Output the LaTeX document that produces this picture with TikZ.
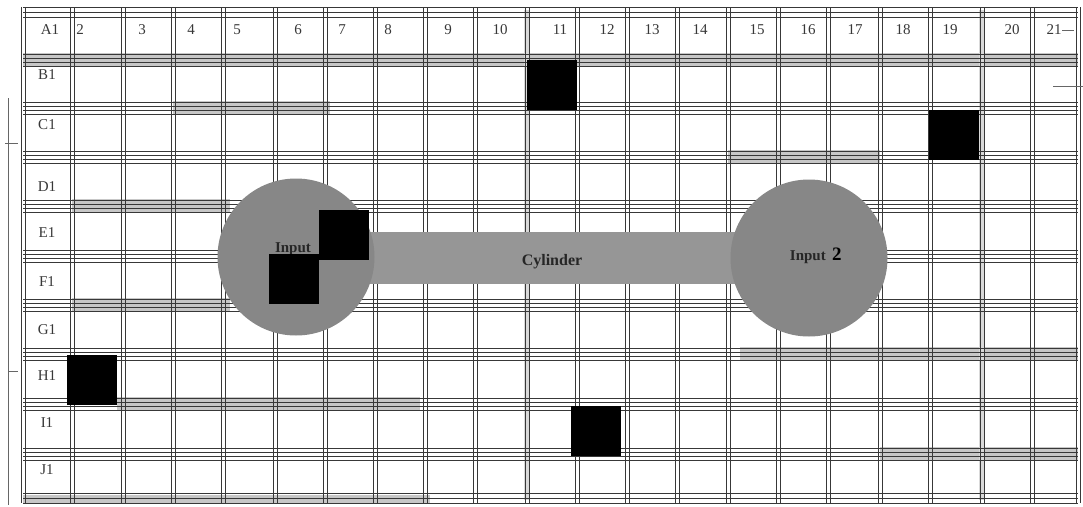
\documentclass[tikz,border=0pt]{standalone}
\usepackage{fontspec}
\setmainfont{Liberation Serif}
\begin{document}
\begin{tikzpicture}[x=1pt,y=-1pt,
  gline/.style={draw=black!78, line width=0.6pt},
  band/.style={fill=black!22, draw=none},
  lbl/.style={font=\fontsize{15}{17}\selectfont, text=black!78, inner sep=0pt},
  disc/.style={circle, fill=black!47, draw=none, minimum size=157pt, inner sep=0pt},
  tube/.style={fill=black!41, draw=none, inner sep=0pt, minimum width=513pt, minimum height=52pt},
  redact/.style={fill=black, draw=none, minimum size=50pt, inner sep=0pt, anchor=north west},
  tick/.style={draw=black!60, line width=0.5pt},
  intext/.style={font=\bfseries\fontsize{15}{17}\selectfont, text=black!85, inner sep=0pt}
]
\useasboundingbox (0,0) rectangle (1083,506);
\fill[white] (0,0) rectangle (1083,506);
% scanner shading in the separator bands
\fill[band] (23,53) rectangle (1078,67);
\fill[band] (173,101) rectangle (330,115);
\fill[band] (728,150) rectangle (880,164);
\fill[band] (72,199) rectangle (230,213);
\fill[band] (72,298) rectangle (230,312);
\fill[band] (740,347) rectangle (1078,361);
\fill[band] (117,397) rectangle (420,411);
\fill[band] (880,447) rectangle (1078,461);
\fill[band] (23,495) rectangle (430,503);
\fill[black!15] (524,10) rectangle (530,500);
\fill[black!15] (979,10) rectangle (985,500);
% horizontal separators
\foreach \y in {7,12,17,493,498,503} \draw[gline] (23,\y) -- (1078,\y);
\foreach \y in {60,108,157,206,256,305,354,404,454} {
  \foreach \d in {-6,-2,2,6} \draw[gline] (23,\y+\d) -- (1078,\y+\d);
}
% vertical double lines
\foreach \x in {23,72,123,173,223,275,325,375,425,475,527,577,627,677,728,778,828,880,930,982,1032,1078} {
  \draw[gline] (\x-1.8,7) -- (\x-1.8,503);
  \draw[gline] (\x+1.8,7) -- (\x+1.8,503);
}
% scan marks
\draw[tick] (8,98) -- (8,505);
\draw[tick] (5,143) -- (18,143);
\draw[tick] (8,371) -- (18,371);
\draw[tick] (1062,30) -- (1074,30);
\draw[tick] (1053,86) -- (1083,86);
% header labels
\foreach \t/\x in {A1/50,2/80,3/142,4/191,5/237,6/298,7/342,8/388,9/448,10/500,11/560,12/607,13/652,14/700,15/757,16/808,17/855,18/903,19/950,20/1012,21/1054}
  \node[lbl] (h\t) at (\x,30) {\t};
% row labels
\foreach \t/\y in {B1/75,C1/125,D1/187,E1/233,F1/282,G1/330,H1/376,I1/423,J1/470}
  \node[lbl] (r\t) at (47,\y) {\t};
% cylinder and inputs
\coordinate (c1) at (296,257);
\coordinate (c2) at (809,258);
\path (c1) -- (c2) node[midway, tube] (cyl) {};
\node[intext, font=\bfseries\fontsize{16}{18}\selectfont] (cyllbl) at (552,262) {Cylinder};
\node[disc] (in1) at (c1) {};
\node[disc] (in2) at (c2) {};
\node[intext] (in1lbl) at (293,249) {Input};
\node[intext, anchor=base east] (in2lbl) at (826,260) {Input};
\node[intext, font=\bfseries\fontsize{19}{21}\selectfont, text=black, anchor=base west] (in2num) at (832,260) {2};
% black squares
\node[redact] (sq1) at (527,60) {};
\node[redact] (sq2) at (929,110) {};
\node[redact] (sq3) at (319,210) {};
\node[redact] (sq4) at (269,254) {};
\node[redact] (sq5) at (67,355) {};
\node[redact] (sq6) at (571,406) {};
\end{tikzpicture}
\end{document}
